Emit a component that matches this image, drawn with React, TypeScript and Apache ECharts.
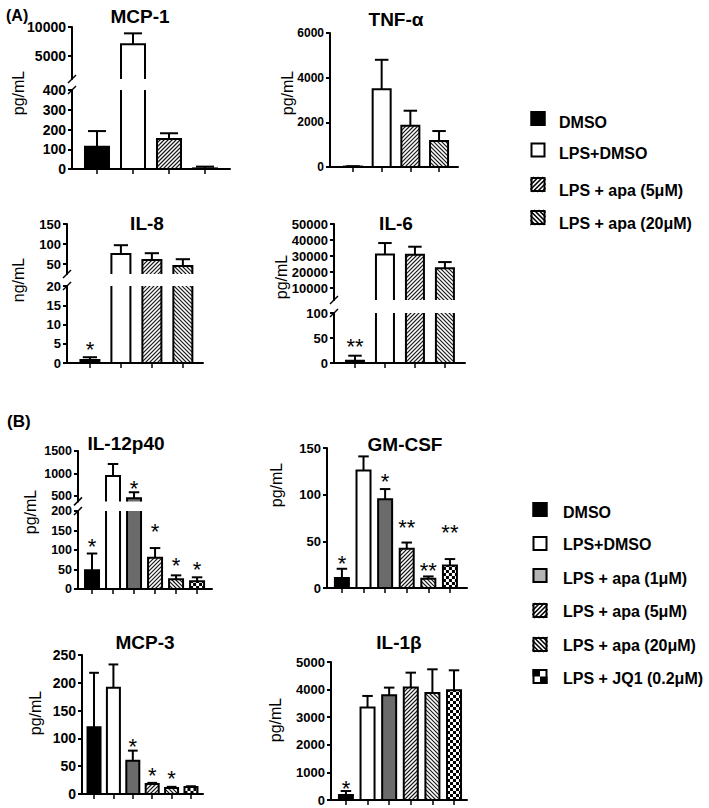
import React, { useEffect, useRef } from 'react';
import * as echarts from 'echarts';

const FONT = '"Liberation Sans", Arial, Helvetica, sans-serif';

// ---------- categories ----------
const groupsA = ['DMSO', 'LPS+DMSO', 'LPS + apa (5μM)', 'LPS + apa (20μM)'];
const groupsB = ['DMSO', 'LPS+DMSO', 'LPS + apa (1μM)', 'LPS + apa (5μM)', 'LPS + apa (20μM)', 'LPS + JQ1 (0.2μM)'];
const kindsA = ['black', 'white', 'hatchUp', 'hatchDown'];
const kindsB = ['black', 'white', 'gray', 'hatchUp', 'hatchDown', 'checker'];

// ---------- values (mean, upper error, significance) ----------
const mcp1Mean = [113, 7000, 152, 3];
const mcp1Err = [192, 8900, 181, 12];
const mcp1Sig = ['', '', '', ''];
const mcp1SigAt = [null, null, null, null];

const tnfMean = [20, 3480, 1845, 1160];
const tnfErr = [35, 4800, 2520, 1610];
const tnfSig = ['', '', '', ''];
const tnfSigAt = [null, null, null, null];

const il8Mean = [0.8, 75, 60, 45];
const il8Err = [1.5, 97, 77, 62];
const il8Sig = ['*', '', '', ''];
const il8SigAt = [4.7, null, null, null];

const il6Mean = [4.6, 31000, 30800, 22300];
const il6Err = [14.6, 38100, 35800, 26200];
const il6Sig = ['**', '', '', ''];
const il6SigAt = [44, null, null, null];

const il12Mean = [48, 944, 449, 80, 25, 20];
const il12Err = [91, 1211, 582, 105, 35, 30];
const il12Sig = ['*', '', '*', '*', '*', '*'];
const il12SigAt = [123, null, 782, 161, 74, 64];

const gmMean = [10.7, 126, 95, 42, 10, 24];
const gmErr = [20.6, 141, 106, 48.7, 12.4, 31];
const gmSig = ['*', '', '*', '**', '**', '**'];
const gmSigAt = [32, null, 120, 70, 24, 65];

const mcp3Mean = [120, 191, 60, 18, 11, 12.6];
const mcp3Err = [218, 233, 78, 20, 12.9, 14];
const mcp3Sig = ['', '', '*', '*', '*', ''];
const mcp3SigAt = [null, null, 95, 43, 36, null];

const il1bMean = [180, 3350, 3795, 4072, 3878, 3976];
const il1bErr = [325, 3770, 4072, 4614, 4735, 4699];
const il1bSig = ['*', '', '', '', '', ''];
const il1bSigAt = [604, null, null, null, null, null];

// ---------- tick labels ----------
const mcp1TicksHi = [5000, 10000];
const mcp1TicksLo = [0, 100, 200, 300, 400];
const tnfTicks = [0, 2000, 4000, 6000];
const il8TicksHi = [50, 100, 150];
const il8TicksLo = [0, 5, 10, 15, 20];
const il6TicksHi = [10000, 20000, 30000, 40000, 50000];
const il6TicksLo = [0, 50, 100];
const il12TicksHi = [500, 1000, 1500];
const il12TicksLo = [0, 50, 100, 150, 200];
const gmTicks = [0, 50, 100, 150];
const mcp3Ticks = [0, 50, 100, 150, 200, 250];
const il1bTicks = [0, 1000, 2000, 3000, 4000, 5000];

// ---------- layout ----------
const panels: any[] = [
  { title: 'MCP-1', tx: 140, ty: 16, unit: 'pg/mL', ux: 18, uy: 93, left: 72, right: 230, xMin: -0.694, xMax: 3.694, barW: 24, fs: 14,
    kinds: kindsA, mean: mcp1Mean, err: mcp1Err, sig: mcp1Sig, sigAt: mcp1SigAt,
    segs: [{ top: 27, height: 52, min: 1000, max: 10000, ticks: mcp1TicksHi }, { top: 90, height: 79, min: 0, max: 400, ticks: mcp1TicksLo }] },
  { title: 'TNF-α', tx: 396, ty: 19, unit: 'pg/mL', ux: 287, uy: 93, left: 330, right: 458, xMin: -0.8, xMax: 3.66, barW: 18, fs: 12,
    kinds: kindsA, mean: tnfMean, err: tnfErr, sig: tnfSig, sigAt: tnfSigAt,
    segs: [{ top: 33, height: 134, min: 0, max: 6000, ticks: tnfTicks }] },
  { title: 'IL-8', tx: 147, ty: 223, unit: 'ng/mL', ux: 18, uy: 280, left: 67, right: 203, xMin: -0.74, xMax: 3.65, barW: 19, fs: 13,
    kinds: kindsA, mean: il8Mean, err: il8Err, sig: il8Sig, sigAt: il8SigAt,
    segs: [{ top: 224, height: 50, min: 25, max: 150, ticks: il8TicksHi }, { top: 286, height: 77, min: 0, max: 20, ticks: il8TicksLo }] },
  { title: 'IL-6', tx: 396, ty: 223, unit: 'pg/mL', ux: 281, uy: 277, left: 334, right: 465, xMin: -0.7, xMax: 3.67, barW: 18, fs: 13,
    kinds: kindsA, mean: il6Mean, err: il6Err, sig: il6Sig, sigAt: il6SigAt,
    segs: [{ top: 224, height: 76, min: 2500, max: 50000, ticks: il6TicksHi }, { top: 313, height: 50, min: 0, max: 100, ticks: il6TicksLo }] },
  { title: 'IL-12p40', tx: 126, ty: 443, unit: 'pg/mL', ux: 30, uy: 512, left: 78, right: 212, xMin: -0.667, xMax: 5.71, barW: 14, fs: 12.5,
    kinds: kindsB, mean: il12Mean, err: il12Err, sig: il12Sig, sigAt: il12SigAt,
    segs: [{ top: 451, height: 50.4, min: 380, max: 1500, ticks: il12TicksHi }, { top: 511, height: 78, min: 0, max: 200, ticks: il12TicksLo }] },
  { title: 'GM-CSF', tx: 405, ty: 444, unit: 'pg/mL', ux: 276, uy: 485, left: 327, right: 467, xMin: -0.69, xMax: 5.79, barW: 14, fs: 13,
    kinds: kindsB, mean: gmMean, err: gmErr, sig: gmSig, sigAt: gmSigAt,
    segs: [{ top: 448, height: 140, min: 0, max: 150, ticks: gmTicks }] },
  { title: 'MCP-3', tx: 145, ty: 642, unit: 'pg/mL', ux: 35, uy: 713, left: 82, right: 203, xMin: -0.62, xMax: 5.62, barW: 13, fs: 14,
    kinds: kindsB, mean: mcp3Mean, err: mcp3Err, sig: mcp3Sig, sigAt: mcp3SigAt,
    segs: [{ top: 655, height: 139, min: 0, max: 250, ticks: mcp3Ticks }] },
  { title: 'IL-1β', tx: 399, ty: 642, unit: 'pg/mL', ux: 275, uy: 720, left: 331, right: 467, xMin: -0.69, xMax: 5.6, barW: 14, fs: 13,
    kinds: kindsB, mean: il1bMean, err: il1bErr, sig: il1bSig, sigAt: il1bSigAt,
    segs: [{ top: 662, height: 138, min: 0, max: 5000, ticks: il1bTicks }] },
];

const FILL: any = { black: '#000', white: '#fff', gray: '#6b6b6b', hatchUp: '#fff', hatchDown: '#fff', checker: '#fff' };

function hatchLines(x0: number, y0: number, x1: number, y1: number, dir: number, s: number, style: any) {
  const out: any[] = [];
  if (dir > 0) {
    for (let c = Math.ceil((x0 + y0) / s) * s; c <= x1 + y1; c += s) {
      const xa = Math.max(x0, c - y1), xb = Math.min(x1, c - y0);
      if (xb > xa) out.push({ type: 'line', shape: { x1: xa, y1: c - xa, x2: xb, y2: c - xb }, style });
    }
  } else {
    for (let c = Math.ceil((x0 - y1) / s) * s; c <= x1 - y0; c += s) {
      const xa = Math.max(x0, y0 + c), xb = Math.min(x1, y1 + c);
      if (xb > xa) out.push({ type: 'line', shape: { x1: xa, y1: xa - c, x2: xb, y2: xb - c }, style });
    }
  }
  return out;
}

function checkerEls(x0: number, y0: number, x1: number, y1: number, q: number) {
  const out: any[] = [];
  const cols = Math.ceil((x1 - x0) / q);
  const rows = Math.ceil((y1 - y0) / q);
  for (let r = 0; r < rows; r++) {
    for (let c = 0; c < cols; c++) {
      if ((r + c) % 2) continue;
      const xa = x0 + c * q;
      const xb = Math.min(xa + q, x1);
      const yb = y1 - r * q;
      const ya = Math.max(y1 - (r + 1) * q, y0);
      if (xb > xa && yb > ya) out.push({ type: 'rect', shape: { x: xa, y: ya, width: xb - xa, height: yb - ya }, style: { fill: '#000' } });
    }
  }
  return out;
}

function patternEls(kind: string, x0: number, y0: number, x1: number, y1: number, s: number, lw: number) {
  const st = { stroke: '#1a1a1a', lineWidth: lw };
  if (kind === 'hatchUp') return hatchLines(x0, y0, x1, y1, 1, s, st);
  if (kind === 'hatchDown') return hatchLines(x0, y0, x1, y1, -1, s, st);
  if (kind === 'checker') return checkerEls(x0, y0, x1, y1, 3);
  return [];
}

function makeBars(barW: number, kinds: string[]) {
  return (params: any, api: any) => {
    const i = api.value(0), v = api.value(1), e = api.value(2);
    const b = api.coord([i, 0]);
    const t = api.coord([i, v]);
    const ep = api.coord([i, e]);
    const cs = params.coordSys;
    const cx = b[0], x0 = cx - barW / 2, x1 = cx + barW / 2;
    const yT = t[1], yB = b[1];
    const cy0 = Math.max(yT, cs.y - 2), cy1 = Math.min(yB, cs.y + cs.height + 2);
    const kind = kinds[i];
    const kids: any[] = [];
    if (cy1 > cy0) {
      kids.push({ type: 'rect', shape: { x: x0, y: cy0, width: barW, height: cy1 - cy0 }, style: { fill: FILL[kind] } });
      kids.push(...patternEls(kind, x0, cy0, x1, cy1, 4, 1.2));
    }
    kids.push({ type: 'rect', shape: { x: x0, y: yT, width: barW, height: yB - yT }, style: { fill: 'none', stroke: '#000', lineWidth: 2 } });
    if (e > v) {
      const capW = barW * 0.75;
      kids.push({ type: 'line', shape: { x1: cx, y1: yT, x2: cx, y2: ep[1] }, style: { stroke: '#000', lineWidth: 2 } });
      kids.push({ type: 'line', shape: { x1: cx - capW / 2, y1: ep[1], x2: cx + capW / 2, y2: ep[1] }, style: { stroke: '#000', lineWidth: 2 } });
    }
    return { type: 'group', children: kids };
  };
}

function makeStars(sig: string[]) {
  return (_params: any, api: any) => {
    const i = api.value(0);
    const pt = api.coord([i, api.value(1)]);
    return {
      type: 'text', x: pt[0], y: pt[1] + 5,
      style: { text: sig[i], fontSize: 22, fontFamily: FONT, fill: '#000', align: 'center', verticalAlign: 'middle', textAlign: 'center', textVerticalAlign: 'middle' },
    };
  };
}

function txt(text: string, x: number, y: number, size: number, weight: string, align = 'center', rotation = 0) {
  return {
    type: 'text', x, y, rotation,
    style: { text, fontSize: size, fontWeight: weight, fontFamily: FONT, fill: '#000', align, verticalAlign: 'middle', textAlign: align, textVerticalAlign: 'middle' },
  };
}

function legendEls(labels: string[], kinds: string[], mx: number, mys: number[], tx: number, tys: number[], size: number) {
  const els: any[] = [];
  labels.forEach((lab, i) => {
    const kind = kinds[i];
    const x0 = mx - size / 2, y0 = mys[i] - size / 2;
    const fill = kind === 'gray' ? '#b4b4b4' : FILL[kind];
    els.push({ type: 'rect', shape: { x: x0, y: y0, width: size, height: size }, style: { fill, stroke: 'none' } });
    if (kind === 'hatchUp' || kind === 'hatchDown') {
      hatchLines(x0, y0, x0 + size, y0 + size, kind === 'hatchUp' ? 1 : -1, 4.5, { stroke: '#000', lineWidth: 1.6 }).forEach((l) => els.push(l));
    }
    if (kind === 'checker') {
      els.push({ type: 'rect', shape: { x: x0, y: y0, width: size / 2, height: size / 2 }, style: { fill: '#000' } });
      els.push({ type: 'rect', shape: { x: x0 + size / 2, y: y0 + size / 2, width: size / 2, height: size / 2 }, style: { fill: '#000' } });
    }
    els.push({ type: 'rect', shape: { x: x0 + 1, y: y0 + 1, width: size - 2, height: size - 2 }, style: { fill: 'none', stroke: '#000', lineWidth: 2 } });
    els.push(txt(lab, tx, tys[i], 16, 'bold', 'left'));
  });
  return els;
}

function buildOption() {
  const grid: any[] = [], xAxis: any[] = [], yAxis: any[] = [], series: any[] = [];
  const graphic: any[] = [];
  panels.forEach((p) => {
    const idx = p.mean.map((_: number, i: number) => i);
    p.segs.forEach((s: any, si: number) => {
      const gi = grid.length;
      const isBottom = si === p.segs.length - 1;
      grid.push({ left: p.left, top: s.top, width: p.right - p.left, height: s.height, containLabel: false, outerBoundsMode: 'none' });
      xAxis.push({
        type: 'value', gridIndex: gi, min: p.xMin, max: p.xMax, show: isBottom,
        axisLine: { show: true, onZero: false, lineStyle: { color: '#000', width: 2 } },
        axisTick: { show: true, customValues: idx, length: 5, lineStyle: { color: '#000', width: 1.5 } },
        axisLabel: { show: false }, splitLine: { show: false },
      });
      yAxis.push({
        type: 'value', gridIndex: gi, min: s.min, max: s.max,
        axisLine: { show: true, onZero: false, lineStyle: { color: '#000', width: 2 } },
        axisTick: { show: true, customValues: s.ticks, length: 4, lineStyle: { color: '#000', width: 2 } },
        axisLabel: {
          customValues: s.ticks, fontSize: p.fs, fontWeight: 'bold', color: '#000', margin: 6, fontFamily: FONT,
          formatter: (v: number) => String(v),
        },
        splitLine: { show: false },
      });
      series.push({
        type: 'custom', xAxisIndex: gi, yAxisIndex: gi, clip: true, silent: true,
        encode: { x: 0, y: 1 },
        renderItem: makeBars(p.barW, p.kinds),
        data: p.mean.map((m: number, i: number) => [i, m, p.err[i]]),
      });
      const starData = p.sigAt
        .map((v: number | null, i: number) => (v == null ? null : [i, v]))
        .filter((d: any) => d && d[1] >= s.min && d[1] <= s.max);
      if (starData.length) {
        series.push({
          type: 'custom', xAxisIndex: gi, yAxisIndex: gi, clip: false, silent: true, z: 5,
          encode: { x: 0, y: 1 },
          renderItem: makeStars(p.sig),
          data: starData,
        });
      }
    });
    if (p.segs.length === 2) {
      const yA = p.segs[0].top + p.segs[0].height;
      const yB = p.segs[1].top;
      [yA, yB].forEach((y) => {
        graphic.push({ type: 'line', shape: { x1: p.left - 4, y1: y + 4, x2: p.left + 4, y2: y - 4 }, style: { stroke: '#000', lineWidth: 1.5 } });
      });
    }
    graphic.push(txt(p.title, p.tx, p.ty, 19, 'bold'));
    graphic.push(txt(p.unit, p.ux, p.uy, 16, 'normal', 'center', Math.PI / 2));
  });
  graphic.push(txt('(A)', 6, 15.5, 16, 'bold', 'left'));
  graphic.push(txt('(B)', 7, 421, 17, 'bold', 'left'));
  graphic.push(...legendEls(groupsA, kindsA, 538, [118.5, 150, 184.5, 217.5], 559, [122.5, 153, 190, 223.5], 15));
  graphic.push(...legendEls(groupsB, kindsB, 540, [509.5, 543.5, 575.5, 610.5, 644.5, 676.5], 563, [512, 544, 578, 611, 645, 678], 15));

  return {
    animation: false,
    backgroundColor: '#fff',
    grid, xAxis, yAxis, series,
    graphic: { elements: graphic },
  };
}

export default function App() {
  const ref = useRef<HTMLDivElement>(null);
  useEffect(() => {
    if (!ref.current) return;
    const chart = echarts.init(ref.current, undefined, { renderer: 'svg' });
    chart.setOption(buildOption() as any);
    return () => chart.dispose();
  }, []);
  return <div ref={ref} style={{ position: 'fixed', left: 0, top: 0, width: 709, height: 808, background: '#fff' }} />;
}
